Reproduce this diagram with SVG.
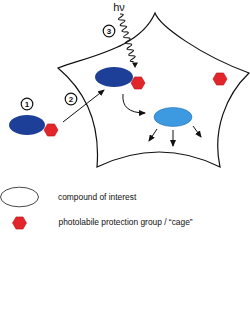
<svg xmlns="http://www.w3.org/2000/svg" xmlns:xlink="http://www.w3.org/1999/xlink" width="250" height="320" viewBox="0 0 250 320">
<style>
.cell{fill:none;stroke:#111;stroke-width:1.2;stroke-linecap:round}
.dark{fill:#1d3f98}
.light{fill:#3d9ae0;stroke:#2a70b5;stroke-width:0.6}
.hex{fill:#e2252b;stroke:#b81418;stroke-width:0.6}
.num{fill:#fff;stroke:#111;stroke-width:1.2}
.numt{font-family:"Liberation Sans",Arial,sans-serif;font-size:8px;font-weight:bold;text-anchor:middle;fill:#111}
.arr{fill:none;stroke:#111;stroke-width:1}
.lbl{font-family:"Liberation Sans",Arial,sans-serif;font-size:8.4px;fill:#111}
</style>
<defs>
<polygon id="hx" points="7,0 3.5,6.06 -3.5,6.06 -7,0 -3.5,-6.06 3.5,-6.06"/>
<marker id="ah" markerWidth="7" markerHeight="6" refX="6" refY="3" orient="auto" markerUnits="userSpaceOnUse">
<path d="M0,0 L7,3 L0,6 Z" fill="#111"/>
</marker>
</defs>
<g id="cell">
<path class="cell" d="M58,68 C90,56 140,48 155,13 C160,26 200,55 249,73 C226,95 212,130 220,167 Q160,137 97,167 C100,130 90,95 58,68 Z"/>
</g>
<g id="connectors">
<line class="arr" x1="63" y1="122" x2="104" y2="90" marker-end="url(#ah)"/>
<path class="arr" d="M123,94 Q121,113 145,113" marker-end="url(#ah)"/>
<line class="arr" x1="157" y1="129" x2="149" y2="141" marker-end="url(#ah)"/>
<line class="arr" x1="173" y1="130" x2="173" y2="146" marker-end="url(#ah)"/>
<line class="arr" x1="193" y1="126" x2="201" y2="137" marker-end="url(#ah)"/>
<path class="arr" transform="translate(120,14) rotate(-16)" d="M0,0 q6,1.55 0,3.1 t0,3.1 t0,3.1 t0,3.1 t0,3.1 t0,3.1 t0,3.1 t0,3.1 t0,3.1 t0,3.1 t0,3.1 t0,3.1 t0,3.1 t0,3.1 t0,3.1 t0,3"/>
<polygon points="135,68 132,62.5 138,62.5" fill="#111"/>
</g>
<g id="caged-outside">
<ellipse class="dark" cx="27" cy="125" rx="18" ry="10"/>
<use xlink:href="#hx" href="#hx" class="hex" x="51" y="130"/>
</g>
<g id="caged-inside">
<ellipse class="dark" cx="114" cy="77" rx="19" ry="10"/>
<use xlink:href="#hx" href="#hx" class="hex" x="138" y="83"/>
</g>
<g id="free-cage">
<use xlink:href="#hx" href="#hx" class="hex" x="220" y="79"/>
</g>
<g id="released">
<ellipse class="light" cx="173" cy="117" rx="19" ry="9.5"/>
</g>
<g id="step1">
<circle class="num" cx="27" cy="104" r="5.8"/>
<text class="numt" x="27" y="107">1</text>
</g>
<g id="step2">
<circle class="num" cx="71" cy="99" r="5.8"/>
<text class="numt" x="71" y="102">2</text>
</g>
<g id="step3">
<circle class="num" cx="109" cy="31" r="5.8"/>
<text class="numt" x="109" y="34">3</text>
</g>
<g id="light">
<text x="119" y="10.5" font-family="Liberation Sans, Arial, sans-serif" font-size="11" text-anchor="middle" fill="#111">hν</text>
</g>
<g id="legend-compound">
<ellipse cx="19.5" cy="197" rx="19" ry="9.8" fill="#fff" stroke="#333" stroke-width="0.9"/>
<text class="lbl" x="58" y="199.5">compound of interest</text>
</g>
<g id="legend-cage">
<use xlink:href="#hx" href="#hx" class="hex" x="19.5" y="223"/>
<text class="lbl" x="58.5" y="225">photolabile protection group / “cage”</text>
</g>
</svg>
